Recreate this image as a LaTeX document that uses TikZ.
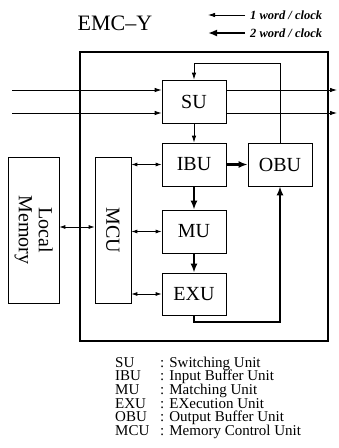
\documentclass[tikz,border=0pt]{standalone}
\usepackage{fontspec}
\setmainfont{Liberation Serif}
\usetikzlibrary{arrows.meta}
\begin{document}
\begin{tikzpicture}[x=1pt,y=-1pt,
  unit/.style={draw,line width=0.7pt,minimum width=64pt,minimum height=43pt,inner sep=0pt,font=\fontsize{20}{23}\selectfont},
  thinar/.style={line width=0.8pt,-{Latex[length=7pt,width=4.5pt]}},
  bothar/.style={line width=0.8pt,{Latex[length=6pt,width=4pt]}-{Latex[length=6pt,width=4pt]}},
  thickar/.style={line width=2.6pt,-{Latex[length=9pt,width=7pt]}},
  leg/.style={font=\fontsize{15}{16}\selectfont,anchor=base west,inner sep=0pt}]
\useasboundingbox (0,0) rectangle (339,448);
% outer box
\draw[line width=2.4pt] (80,52) rectangle (328,341);
% title
\node[font=\fontsize{22}{24}\selectfont,anchor=base,inner sep=0pt] (title) at (115,30) {EMC--Y};
% legend arrows
\coordinate (la1s) at (245,15); \coordinate (la1e) at (208,15);
\coordinate (la2s) at (245,33); \coordinate (la2e) at (208,33);
\draw[thinar] (la1s) -- (la1e);
\draw[thickar] (la2s) -- (la2e);
\node[font=\fontsize{12.5}{13}\selectfont\bfseries\itshape,anchor=west,inner sep=0pt] (l1) at (250,15) {1 word / clock};
\node[font=\fontsize{12.5}{13}\selectfont\bfseries\itshape,anchor=west,inner sep=0pt] (l2) at (250,33) {2 word / clock};
% units
\node[unit] (SU) at (194,101.5) {SU};
\node[unit] (IBU) at (194,164.5) {IBU};
\node[unit] (OBU) at (280,164.5) {OBU};
\node[unit] (MU) at (194,231.5) {MU};
\node[unit,minimum height=42pt] (EXU) at (194,294) {EXU};
\node[unit,minimum width=36pt,minimum height=146pt] (MCU) at (113,230) {\rotatebox{-90}{MCU}};
\node[unit,minimum width=51pt,minimum height=146pt] (LM) at (33.5,230) {\rotatebox{-90}{\begin{tabular}{@{}c@{}}Local\\[-3pt]Memory\end{tabular}}};
% inputs / outputs
\coordinate (in1) at (12,90); \coordinate (in2) at (12,113);
\coordinate (out1) at (337,90); \coordinate (out2) at (337,113);
\draw[thinar] (in1) -- (SU.west |- in1);
\draw[thinar] (in2) -- (SU.west |- in2);
\draw[thinar] (SU.east |- out1) -- (out1);
\draw[thinar] (SU.east |- out2) -- (out2);
% feedback
\coordinate (fb) at (280,63);
\draw[thinar] (OBU.north) -- (fb) -| (SU.north);
% internal
\draw[thinar] (SU.south) -- (IBU.north);
\draw[thickar] (IBU.east) -- (OBU.west);
\draw[thickar] (IBU.south) -- (MU.north);
\draw[thickar] (MU.south) -- (EXU.north);
\coordinate (ret) at (194,322);
\draw[thickar] (EXU.south) -- (ret) -| (OBU.south);
% MCU links
\draw[bothar] (IBU.west -| MCU.east) -- (IBU.west);
\draw[bothar] (MU.west -| MCU.east) -- (MU.west);
\draw[bothar] (EXU.west -| MCU.east) -- (EXU.west);
\coordinate (lmy) at (0,227);
\draw[bothar] (lmy -| LM.east) -- (lmy -| MCU.west);
% bottom legend
\foreach \n/\d [count=\i from 0] in {SU/Switching Unit,IBU/Input Buffer Unit,MU/Matching Unit,EXU/EXecution Unit,OBU/Output Buffer Unit,MCU/Memory Control Unit}{
  \node[leg] (k\i) at (115,367+13.7*\i) {\n};
  \node[leg] (d\i) at (160,367+13.7*\i) {: \d};
}
\end{tikzpicture}
\end{document}
